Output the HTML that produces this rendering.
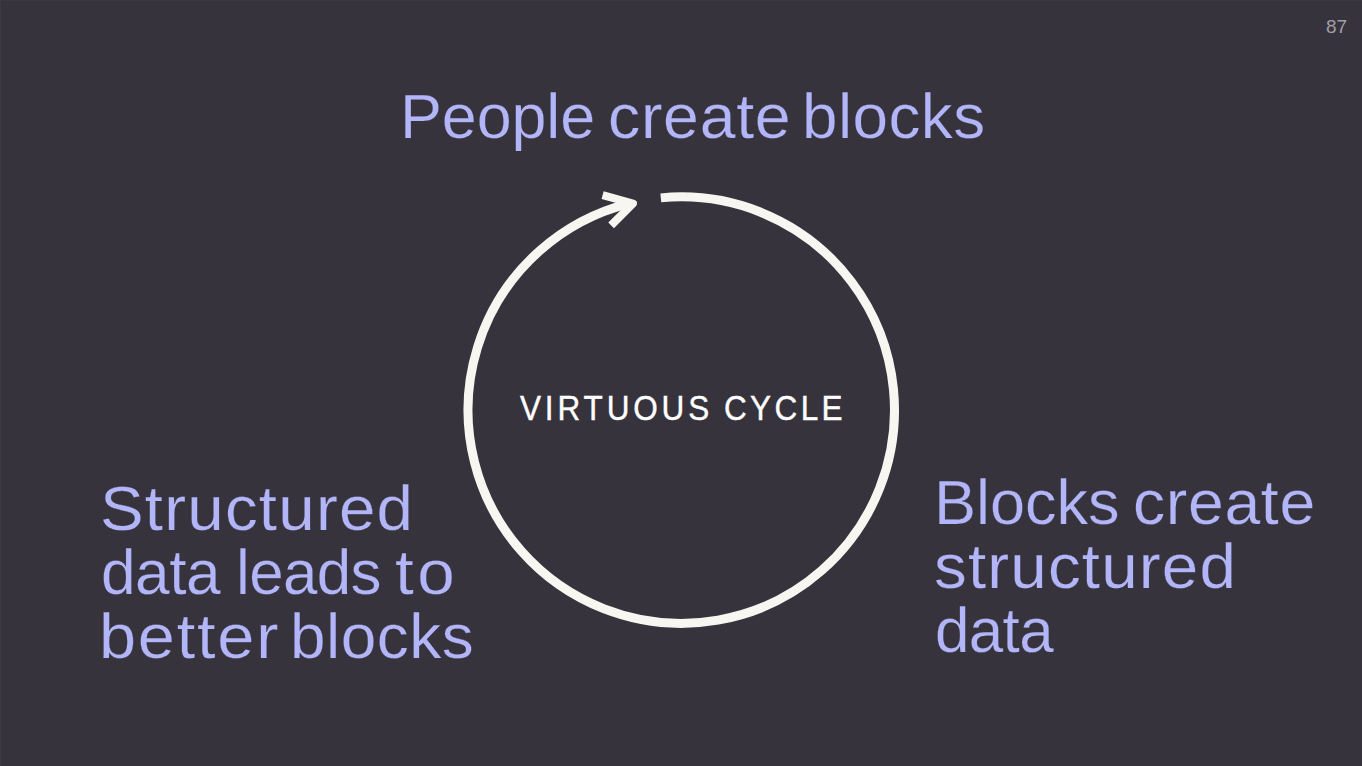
<!DOCTYPE html>
<html>
<head>
<meta charset="utf-8">
<style>
html,body{margin:0;padding:0;}
body{width:1362px;height:766px;background:#36333d;box-shadow:inset 1px 1px 0 #3c3943;position:relative;overflow:hidden;font-family:"Liberation Sans",sans-serif;}
.t{position:absolute;white-space:nowrap;color:#b2b5f7;font-size:63px;line-height:63px;-webkit-text-stroke:0.25px #36333d;transform-origin:0 0;}
.pn{position:absolute;white-space:nowrap;color:#a19ea8;font-size:19px;line-height:19px;}
.vc{position:absolute;white-space:nowrap;color:#ffffff;font-size:35px;line-height:35px;-webkit-text-stroke:0.4px #ffffff;transform-origin:0 0;}
svg{position:absolute;left:0;top:0;}

</style>
</head>
<body>
<svg width="1362" height="766" viewBox="0 0 1362 766">
  <path d="M 660.80 197.89 A 213.2 213.2 0 1 1 628.50 203.54" fill="none" stroke="#f7f6f1" stroke-width="9" stroke-linecap="butt"/>
  <path d="M 602.6 195.2 L 633.0 203.5 L 611.1 225.4" fill="none" stroke="#f7f6f1" stroke-width="8" stroke-linecap="butt" stroke-linejoin="round"/>
</svg>

<div class="pn" style="left:1326px;top:16.5px;">87</div>

<div class="t" style="left:400.20px;top:85px;letter-spacing:-0.10px;transform:scaleX(0.9974);">People</div>
<div class="t" style="left:607.60px;top:85px;letter-spacing:0.73px;transform:scaleX(1.0219);">create</div>
<div class="t" style="left:802.20px;top:85px;letter-spacing:0.44px;transform:scaleX(1.0131);">blocks</div>
<div class="t" style="left:100.00px;top:477px;letter-spacing:1.18px;transform:scaleX(1.0387);">Structured</div>
<div class="t" style="left:101.00px;top:541px;letter-spacing:-0.51px;transform:scaleX(0.9877);">data</div>
<div class="t" style="left:236.40px;top:541px;letter-spacing:-0.64px;transform:scaleX(0.9828);">leads</div>
<div class="t" style="left:395.40px;top:541px;letter-spacing:3.28px;transform:scaleX(1.0699);">to</div>
<div class="t" style="left:99.00px;top:605px;letter-spacing:1.70px;transform:scaleX(1.0577);">better</div>
<div class="t" style="left:290.40px;top:605px;letter-spacing:0.49px;transform:scaleX(1.0144);">blocks</div>
<div class="t" style="left:934.00px;top:471px;">Blocks</div>
<div class="t" style="left:1132.80px;top:471px;letter-spacing:0.68px;transform:scaleX(1.0207);">create</div>
<div class="t" style="left:934.00px;top:535px;letter-spacing:1.15px;transform:scaleX(1.0390);">structured</div>
<div class="t" style="left:935.00px;top:599px;letter-spacing:-0.68px;transform:scaleX(0.9835);">data</div>
<div class="vc" style="left:520.00px;top:390px;letter-spacing:4.29px;transform:scaleX(0.9000);">VIRTUOUS</div>
<div class="vc" style="left:724.00px;top:390px;letter-spacing:3.75px;transform:scaleX(0.9000);">CYCLE</div>
</body>
</html>
